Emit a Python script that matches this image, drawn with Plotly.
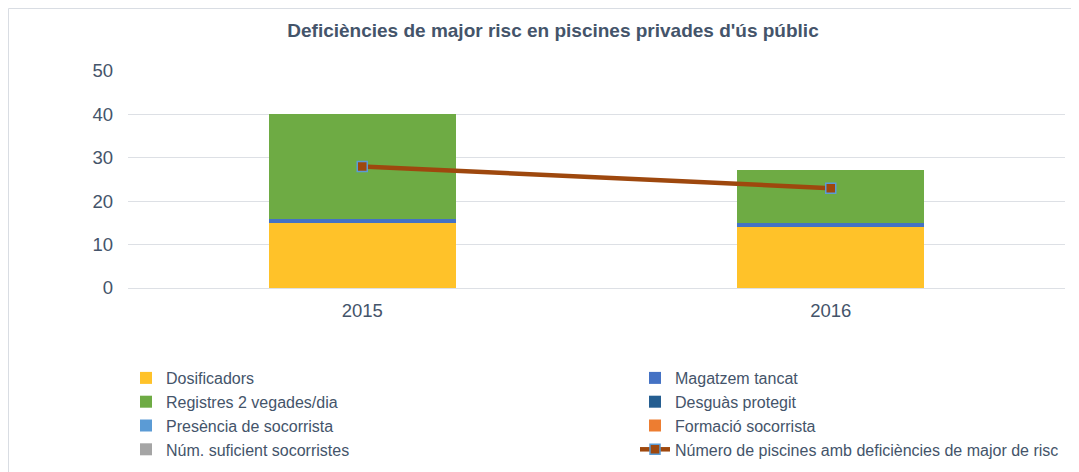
import plotly.graph_objects as go

years = ["2015", "2016"]
dosificadors = [15, 14]
magatzem_tancat = [1, 1]
registres = [24, 12.3]
desguas_protegit = [0, 0]
presencia_socorrista = [0, 0]
formacio_socorrista = [0, 0]
num_suficient = [0, 0]
num_piscines = [28, 23]

# (name, values, colour, legend column)
bar_series = [
    ("Dosificadors", dosificadors, "#FFC229", "legend"),
    ("Magatzem tancat", magatzem_tancat, "#4472C4", "legend2"),
    ("Registres 2 vegades/dia", registres, "#6EAB44", "legend"),
    ("Desguàs protegit", desguas_protegit, "#255E91", "legend2"),
    ("Presència de socorrista", presencia_socorrista, "#5B9BD5", "legend"),
    ("Formació socorrista", formacio_socorrista, "#ED7D31", "legend2"),
    ("Núm. suficient socorristes", num_suficient, "#A5A5A5", "legend"),
]

TXT = "#44546A"
FONT = "Liberation Sans, Arial, sans-serif"

fig = go.Figure()
for i, (name, vals, col, lg) in enumerate(bar_series):
    fig.add_trace(go.Bar(x=years, y=vals, name=name, legend=lg, legendgroup=f"g{i}",
                         marker=dict(color=col, line=dict(width=0))))

fig.add_trace(go.Scatter(
    x=years, y=num_piscines, name="Número de piscines amb deficiències de major de risc",
    legend="legend2", legendgroup="gline",
    mode="lines+markers",
    line=dict(color="#9E480E", width=4.5),
    marker=dict(symbol="square", size=10, color="#9E480E", line=dict(color="#5B9BD5", width=1.5)),
))

# page body has an 8px margin: work in figure coordinates (image px - 8)
OFF = 8
W, H = 1079 - OFF, 472 - OFF
L = 128 - OFF
R = W - (1065 - OFF)
T = 71 - OFF
B = H - (288 - OFF)
pw, ph = W - L - R, H - T - B

def px_x(p):
    return (p - OFF - L) / pw

def px_y(p):
    return (H - B - (p - OFF)) / ph

legend_common = dict(orientation="v", xanchor="left", yanchor="top", traceorder="normal",
                     tracegroupgap=1, font=dict(size=16, color=TXT, family=FONT),
                     bgcolor="rgba(0,0,0,0)")

fig.update_layout(
    width=W, height=H,
    margin=dict(l=L, r=R, t=T, b=B, autoexpand=False),
    paper_bgcolor="white", plot_bgcolor="white",
    barmode="stack", bargap=0.6,
    font=dict(family=FONT, color=TXT, size=16),
    title=dict(text="<b>Deficiències de major risc en piscines privades d'ús públic</b>",
               x=(553 - OFF) / W, xanchor="center", xref="container",
               y=1 - (30 - OFF) / H, yanchor="middle", yref="container",
               font=dict(size=19, color=TXT, family=FONT)),
    xaxis=dict(showgrid=False, showline=False, ticks="", tickfont=dict(size=18.5, color=TXT),
               ticklabelstandoff=9),
    yaxis=dict(range=[0, 50], dtick=10, showgrid=True, gridcolor="#DDE0E5", gridwidth=1,
               zeroline=True, zerolinecolor="#DDE0E5", zerolinewidth=1,
               showline=False, ticks="", tickfont=dict(size=18.5, color=TXT), ticklabelstandoff=14),
    legend=dict(x=px_x(126), y=px_y(361), **legend_common),
    legend2=dict(x=px_x(635), y=px_y(361), **legend_common),
    shapes=[dict(type="rect", xref="paper", yref="paper",
                 x0=px_x(OFF + 0.5), x1=px_x(1100), y0=px_y(500), y1=px_y(OFF + 0.5),
                 line=dict(color="#D9DDE3", width=1), fillcolor="rgba(0,0,0,0)", layer="below")],
)

fig.write_html("out.html")
